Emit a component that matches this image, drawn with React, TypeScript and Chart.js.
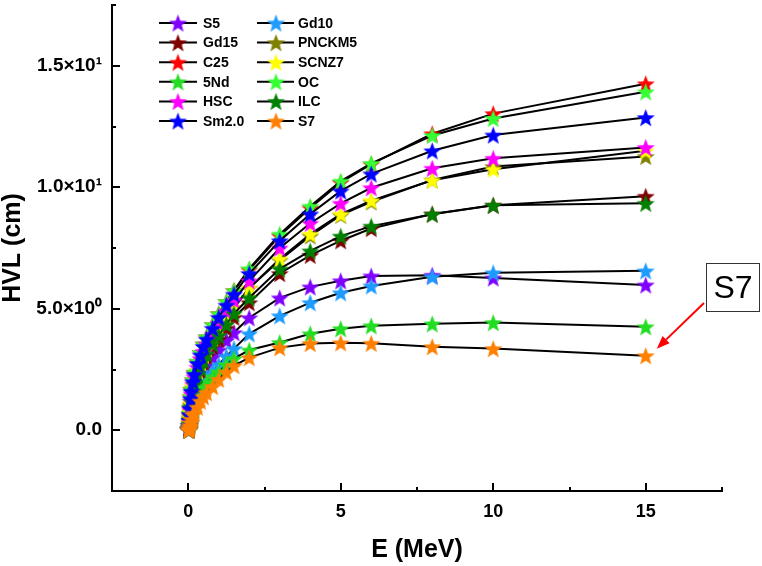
import React, { useEffect, useRef } from 'react';
import { Chart, registerables } from 'chart.js';

Chart.register(...registerables);

// ---------- data ----------
const ENERGY = [0.015, 0.02, 0.03, 0.04, 0.05, 0.06, 0.08, 0.1, 0.15, 0.2, 0.3, 0.4, 0.5, 0.6, 0.8, 1, 1.25, 1.5, 2, 3, 4, 5, 6, 8, 10, 15];

const S5 = [0.01, 0.03, 0.08, 0.16, 0.28, 0.4, 0.65, 0.85, 1.2, 1.45, 1.85, 2.15, 2.4, 2.65, 3.0, 3.3, 3.7, 4.02, 4.63, 5.45, 5.9, 6.15, 6.35, 6.38, 6.27, 5.98];
const GD10 = [0.01, 0.02, 0.06, 0.12, 0.2, 0.3, 0.48, 0.65, 0.95, 1.15, 1.5, 1.75, 1.95, 2.15, 2.45, 2.7, 3.05, 3.36, 3.97, 4.71, 5.25, 5.66, 5.94, 6.32, 6.48, 6.56];
const GD15 = [0.02, 0.04, 0.1, 0.2, 0.35, 0.5, 0.8, 1.05, 1.45, 1.75, 2.15, 2.5, 2.8, 3.05, 3.45, 3.75, 4.2, 4.65, 5.25, 6.45, 7.2, 7.8, 8.3, 8.9, 9.26, 9.63];
const PNCKM5 = [0.02, 0.05, 0.15, 0.3, 0.5, 0.72, 1.05, 1.35, 1.75, 2.05, 2.45, 2.8, 3.1, 3.35, 3.8, 4.2, 4.65, 5.05, 5.85, 7.0, 8.0, 8.85, 9.4, 10.3, 10.85, 11.27];
const C25 = [0.03, 0.07, 0.2, 0.42, 0.68, 0.95, 1.38, 1.68, 2.08, 2.38, 2.83, 3.2, 3.55, 3.85, 4.35, 4.8, 5.3, 5.75, 6.6, 8.0, 9.15, 10.2, 10.95, 12.2, 13.03, 14.26];
const SCNZ7 = [0.02, 0.05, 0.15, 0.32, 0.52, 0.75, 1.1, 1.4, 1.8, 2.05, 2.45, 2.8, 3.1, 3.35, 3.8, 4.2, 4.65, 5.05, 5.86, 7.05, 8.07, 8.89, 9.45, 10.29, 10.74, 11.5];
const ND5 = [0.01, 0.02, 0.05, 0.1, 0.17, 0.25, 0.4, 0.55, 0.8, 1.0, 1.3, 1.55, 1.75, 1.95, 2.2, 2.4, 2.7, 2.95, 3.3, 3.61, 3.97, 4.18, 4.3, 4.38, 4.43, 4.26];
const OC = [0.03, 0.07, 0.2, 0.42, 0.7, 0.95, 1.4, 1.7, 2.1, 2.4, 2.85, 3.2, 3.55, 3.85, 4.35, 4.8, 5.3, 5.75, 6.65, 8.07, 9.22, 10.25, 10.98, 12.13, 12.83, 13.93];
const HSC = [0.02, 0.06, 0.18, 0.37, 0.6, 0.85, 1.2, 1.5, 1.9, 2.2, 2.6, 2.95, 3.25, 3.55, 3.95, 4.4, 4.9, 5.35, 6.15, 7.5, 8.52, 9.34, 9.98, 10.78, 11.19, 11.64];
const ILC = [0.02, 0.04, 0.12, 0.25, 0.42, 0.6, 0.95, 1.2, 1.6, 1.9, 2.3, 2.6, 2.9, 3.15, 3.55, 3.9, 4.35, 4.8, 5.45, 6.64, 7.38, 7.99, 8.4, 8.89, 9.26, 9.34];
const SM20 = [0.03, 0.07, 0.2, 0.4, 0.65, 0.9, 1.3, 1.6, 2.0, 2.3, 2.75, 3.1, 3.45, 3.75, 4.2, 4.65, 5.15, 5.6, 6.45, 7.8, 8.9, 9.85, 10.55, 11.5, 12.15, 12.87];
const S7 = [0.01, 0.02, 0.04, 0.08, 0.14, 0.2, 0.32, 0.45, 0.65, 0.7, 0.95, 1.2, 1.38, 1.55, 1.8, 2.1, 2.4, 2.66, 2.99, 3.4, 3.57, 3.6, 3.58, 3.44, 3.36, 3.07];

// drawing order: first = bottom, last = top
const SERIES_NAMES = ['S5', 'Gd10', 'Gd15', 'PNCKM5', 'C25', 'SCNZ7', '5Nd', 'OC', 'HSC', 'ILC', 'Sm2.0', 'S7'];
const SERIES_VALUES = [S5, GD10, GD15, PNCKM5, C25, SCNZ7, ND5, OC, HSC, ILC, SM20, S7];
const SERIES_COLORS = ['#8000FF', '#1E9BFF', '#800000', '#808000', '#FF0000', '#FFFF00', '#22DD22', '#33FF33', '#FF00FF', '#008000', '#0000FF', '#FF8000'];

const LEGEND_COLUMNS = [
  ['S5', 'Gd15', 'C25', '5Nd', 'HSC', 'Sm2.0'],
  ['Gd10', 'PNCKM5', 'SCNZ7', 'OC', 'ILC', 'S7'],
];

const X_TICKS = [0, 5, 10, 15];
const X_TICK_LABELS = ['0', '5', '10', '15'];
const Y_TICKS = [0, 5, 10, 15];
const Y_TICK_LABELS = ['0.0', '5.0×10⁰', '1.0×10¹', '1.5×10¹'];
const MINOR_TICKS = [-2.5, 2.5, 7.5, 12.5, 17.5];
const X_TITLE = 'E (MeV)';
const Y_TITLE = 'HVL (cm)';
const ANNOTATION_TEXT = 'S7';
const ANNOTATION_SERIES = 'S7';

const FONT = 'Arial, "Liberation Sans", Helvetica, sans-serif';

function makeStar(color: string, r: number) {
  const size = Math.ceil(r * 2 + 2);
  const c = document.createElement('canvas');
  c.width = size;
  c.height = size;
  const ctx = c.getContext('2d')!;
  const cx = size / 2;
  const cy = size / 2 + r * 0.1;
  ctx.beginPath();
  for (let i = 0; i < 10; i++) {
    const rad = i % 2 === 0 ? r : r * 0.42;
    const a = -Math.PI / 2 + (i * Math.PI) / 5;
    const px = cx + rad * Math.cos(a);
    const py = cy + rad * Math.sin(a);
    if (i === 0) ctx.moveTo(px, py);
    else ctx.lineTo(px, py);
  }
  ctx.closePath();
  ctx.fillStyle = color;
  ctx.fill();
  return c;
}

export default function App() {
  const ref = useRef<HTMLCanvasElement | null>(null);

  useEffect(() => {
    if (!ref.current) return;
    const stars = SERIES_COLORS.map((c) => makeStar(c, 9.5));

    const datasets = SERIES_NAMES.map((name, i) => ({
      label: name,
      data: ENERGY.map((e, j) => ({ x: e, y: SERIES_VALUES[i][j] })),
      borderColor: '#000000',
      borderWidth: 2,
      backgroundColor: SERIES_COLORS[i],
      pointStyle: stars[i],
      pointRadius: 9,
      tension: 0,
      fill: false,
      order: SERIES_NAMES.length - i,
    }));

    const decorPlugin = {
      id: 'decor',
      afterDraw(chart: any) {
        const ctx = chart.ctx as CanvasRenderingContext2D;
        const xs = chart.scales.x;
        const ys = chart.scales.y;
        const area = chart.chartArea;
        ctx.save();
        // inward ticks
        ctx.strokeStyle = '#000';
        ctx.lineWidth = 2;
        const drawX = (v: number, len: number) => {
          const px = Math.round(xs.getPixelForValue(v));
          ctx.beginPath();
          ctx.moveTo(px, area.bottom);
          ctx.lineTo(px, area.bottom - len);
          ctx.stroke();
        };
        const drawY = (v: number, len: number) => {
          const py = Math.round(ys.getPixelForValue(v));
          ctx.beginPath();
          ctx.moveTo(area.left, py);
          ctx.lineTo(area.left + len, py);
          ctx.stroke();
        };
        X_TICKS.forEach((v) => drawX(v, 8));
        Y_TICKS.forEach((v) => drawY(v, 8));
        MINOR_TICKS.forEach((v) => {
          drawX(v, 4);
          drawY(v, 4);
        });

        // legend
        const rowY0 = 23;
        const rowStep = 19.6;
        const cols = [
          { x1: 159, x2: 197, star: 178, text: 203 },
          { x1: 257, x2: 294, star: 276, text: 298 },
        ];
        ctx.font = `bold 14px ${FONT}`;
        ctx.textBaseline = 'middle';
        ctx.textAlign = 'left';
        LEGEND_COLUMNS.forEach((col, ci) => {
          col.forEach((name, ri) => {
            const idx = SERIES_NAMES.indexOf(name);
            const y = rowY0 + ri * rowStep;
            const c = cols[ci];
            ctx.strokeStyle = '#000';
            ctx.lineWidth = 2;
            ctx.beginPath();
            ctx.moveTo(c.x1, y);
            ctx.lineTo(c.x2, y);
            ctx.stroke();
            const img = stars[idx];
            ctx.drawImage(img, c.star - img.width / 2, y - img.height / 2);
            ctx.fillStyle = '#000';
            ctx.fillText(name, c.text, y + 1);
          });
        });

        // annotation box
        ctx.strokeStyle = '#333';
        ctx.lineWidth = 1;
        ctx.strokeRect(706.5, 263.5, 53, 48);
        ctx.fillStyle = '#000';
        ctx.font = `32px ${FONT}`;
        ctx.textAlign = 'center';
        ctx.textBaseline = 'middle';
        ctx.fillText(ANNOTATION_TEXT, 733, 289);

        // arrow to last point of the annotated series
        const si = SERIES_NAMES.indexOf(ANNOTATION_SERIES);
        const vals = SERIES_VALUES[si];
        const tx = xs.getPixelForValue(ENERGY[ENERGY.length - 1]) + 11;
        const ty = ys.getPixelForValue(vals[vals.length - 1]) - 7;
        const sx = 704;
        const sy = 303;
        const ang = Math.atan2(ty - sy, tx - sx);
        const hl = 13;
        const hw = 5;
        const bx = tx - hl * Math.cos(ang);
        const by = ty - hl * Math.sin(ang);
        ctx.strokeStyle = '#FF0000';
        ctx.fillStyle = '#FF0000';
        ctx.lineWidth = 2;
        ctx.beginPath();
        ctx.moveTo(sx, sy);
        ctx.lineTo(bx, by);
        ctx.stroke();
        ctx.beginPath();
        ctx.moveTo(tx, ty);
        ctx.lineTo(bx + hw * Math.sin(ang), by - hw * Math.cos(ang));
        ctx.lineTo(bx - hw * Math.sin(ang), by + hw * Math.cos(ang));
        ctx.closePath();
        ctx.fill();
        ctx.restore();
      },
    };

    const chart = new Chart(ref.current, {
      type: 'line',
      data: { datasets },
      options: {
        animation: false,
        responsive: false,
        devicePixelRatio: 1,
        layout: { autoPadding: false, padding: { left: 0, right: 40, top: 5, bottom: 0 } },
        plugins: {
          legend: { display: false },
          tooltip: { enabled: false },
        },
        scales: {
          x: {
            type: 'linear',
            min: -2.5,
            max: 17.5,
            grid: { display: false, drawTicks: false },
            border: { display: true, color: '#000', width: 2 },
            afterBuildTicks: (s: any) => {
              s.ticks = X_TICKS.map((v) => ({ value: v }));
            },
            afterFit: (s: any) => {
              s.height = 75;
              s.paddingLeft = 0;
              s.paddingRight = 0;
            },
            ticks: {
              autoSkip: false,
              maxRotation: 0,
              padding: 10,
              color: '#000',
              font: { family: FONT, size: 18, weight: 'bold' },
              callback: (v: any) => {
                const i = X_TICKS.indexOf(Number(v));
                return i >= 0 ? X_TICK_LABELS[i] : '';
              },
            },
            title: {
              display: true,
              text: X_TITLE,
              color: '#000',
              font: { family: FONT, size: 25, weight: 'bold', lineHeight: 1 },
              padding: { top: 0, bottom: 3 },
            },
          },
          y: {
            type: 'linear',
            min: -2.5,
            max: 17.5,
            grid: { display: false, drawTicks: false },
            border: { display: true, color: '#000', width: 2 },
            afterBuildTicks: (s: any) => {
              s.ticks = Y_TICKS.map((v) => ({ value: v }));
            },
            afterFit: (s: any) => {
              s.width = 112;
              s.paddingTop = 0;
              s.paddingBottom = 0;
            },
            ticks: {
              autoSkip: false,
              padding: 10,
              color: '#000',
              font: { family: FONT, size: 19, weight: 'bold' },
              callback: (v: any) => {
                const i = Y_TICKS.indexOf(Number(v));
                return i >= 0 ? Y_TICK_LABELS[i] : '';
              },
            },
            title: {
              display: true,
              text: Y_TITLE,
              color: '#000',
              font: { family: FONT, size: 25, weight: 'bold', lineHeight: 1 },
              padding: { top: 1, bottom: 0 },
            },
          },
        },
      } as any,
      plugins: [decorPlugin],
    });

    return () => chart.destroy();
  }, []);

  return (
    <div style={{ position: 'fixed', left: 0, top: 0, width: 762, height: 566, background: '#fff' }}>
      <canvas ref={ref} width={762} height={566} style={{ display: 'block' }} />
    </div>
  );
}
